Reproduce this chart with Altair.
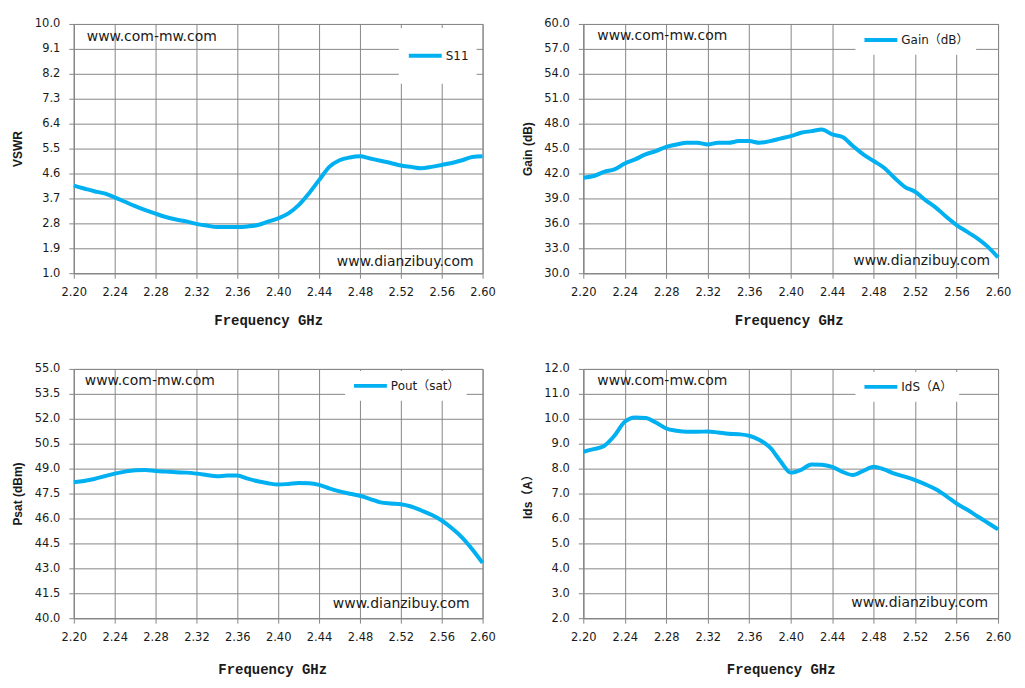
import altair as alt
import pandas as pd

freq = [2.20, 2.21, 2.22, 2.23, 2.24, 2.25, 2.26, 2.27, 2.28, 2.29,
        2.30, 2.31, 2.32, 2.33, 2.34, 2.35, 2.36, 2.37, 2.38, 2.39,
        2.40, 2.41, 2.42, 2.43, 2.44, 2.45, 2.46, 2.47, 2.48, 2.49,
        2.50, 2.51, 2.52, 2.53, 2.54, 2.55, 2.56, 2.57, 2.58, 2.59, 2.60]

vswr = [4.16, 4.06, 3.96, 3.88, 3.74, 3.58, 3.42, 3.28, 3.15, 3.03,
        2.94, 2.87, 2.78, 2.72, 2.67, 2.67, 2.67, 2.69, 2.74, 2.86,
        2.98, 3.16, 3.46, 3.88, 4.36, 4.84, 5.08, 5.18, 5.22, 5.14,
        5.06, 4.98, 4.89, 4.84, 4.79, 4.84, 4.91, 4.98, 5.08, 5.20, 5.22]

gain = [41.5, 41.7, 42.2, 42.5, 43.2, 43.7, 44.3, 44.7, 45.2, 45.5,
        45.7, 45.7, 45.5, 45.7, 45.7, 45.9, 45.9, 45.7, 45.9, 46.2,
        46.5, 46.9, 47.1, 47.3, 46.7, 46.4, 45.3, 44.3, 43.5, 42.7,
        41.5, 40.4, 39.8, 38.8, 37.9, 36.8, 35.8, 35.0, 34.2, 33.2, 31.9]

psat = [48.18, 48.26, 48.38, 48.54, 48.70, 48.82, 48.90, 48.92, 48.86, 48.82,
        48.78, 48.76, 48.70, 48.62, 48.54, 48.58, 48.58, 48.40, 48.24, 48.12,
        48.04, 48.08, 48.14, 48.12, 48.02, 47.81, 47.63, 47.49, 47.37, 47.17,
        46.97, 46.90, 46.86, 46.72, 46.48, 46.22, 45.88, 45.41, 44.85, 44.14, 43.33]

ids = [8.68, 8.78, 8.91, 9.32, 9.88, 10.05, 10.03, 9.85, 9.61, 9.52,
       9.48, 9.48, 9.49, 9.45, 9.40, 9.38, 9.32, 9.15, 8.85, 8.31,
       7.84, 7.95, 8.17, 8.16, 8.07, 7.87, 7.74, 7.91, 8.08, 7.97,
       7.80, 7.68, 7.54, 7.37, 7.17, 6.90, 6.60, 6.36, 6.09, 5.83, 5.56]

x_ticks = [2.20, 2.24, 2.28, 2.32, 2.36, 2.40, 2.44, 2.48, 2.52, 2.56, 2.60]
vswr_ticks = [1.0, 1.9, 2.8, 3.7, 4.6, 5.5, 6.4, 7.3, 8.2, 9.1, 10.0]
gain_ticks = [30.0, 33.0, 36.0, 39.0, 42.0, 45.0, 48.0, 51.0, 54.0, 57.0, 60.0]
psat_ticks = [40.0, 41.5, 43.0, 44.5, 46.0, 47.5, 49.0, 50.5, 52.0, 53.5, 55.0]
ids_ticks = [2.0, 3.0, 4.0, 5.0, 6.0, 7.0, 8.0, 9.0, 10.0, 11.0, 12.0]

series_names = ["S11", "Gain（dB）", "Pout（sat）", "IdS（A）"]
y_titles = ["VSWR", "Gain (dB)", "Psat (dBm)", "Ids（A）"]
x_title = "Frequency  GHz"
watermark_top = "www.com-mw.com"
watermark_bottom = "www.dianzibuy.com"

LINE = "#00B0F0"
GRID = "#878787"
TXT = "#1a1a1a"
LABEL_FONT = "DejaVu Sans, Noto Sans CJK SC"


def panel(values, ticks, name, ytitle, width, xtitle_x, xtitle_y,
          leg_x, leg_y, clip_h, leg_pad, wm_top, wm_bot):
    df = pd.DataFrame({"f": freq, "v": values, "s": [name] * len(freq)})
    line = alt.Chart(df).mark_line(strokeWidth=4, interpolate="monotone").encode(
        x=alt.X("f:Q",
                scale=alt.Scale(domain=[2.2, 2.6], nice=False, zero=False),
                axis=alt.Axis(values=x_ticks, format=".2f", title=x_title,
                              titleX=xtitle_x, titleY=xtitle_y,
                              titleBaseline="middle", labelFlush=False,
                              labelOverlap=False)),
        y=alt.Y("v:Q",
                scale=alt.Scale(domain=[ticks[0], ticks[-1]], nice=False, zero=False),
                axis=alt.Axis(values=ticks, format=".1f", title=ytitle,
                              titleX=-56, titleY=125, titleBaseline="middle",
                              labelOverlap=False)),
        color=alt.Color("s:N", scale=alt.Scale(range=[LINE]),
                        legend=alt.Legend(title=None, orient="none",
                                          legendX=leg_x, legendY=leg_y,
                                          symbolType="stroke", symbolSize=1089,
                                          symbolStrokeWidth=4, labelOffset=2,
                                          labelFontSize=12, labelFont=LABEL_FONT,
                                          labelColor=TXT, fillColor="white",
                                          padding=leg_pad, clipHeight=clip_h)),
    )
    t1 = alt.Chart(pd.DataFrame({"t": [watermark_top]})).mark_text(
        align="left", baseline="middle", fontSize=14, font=LABEL_FONT, color=TXT
    ).encode(text="t:N", x=alt.value(wm_top[0]), y=alt.value(wm_top[1]))
    t2 = alt.Chart(pd.DataFrame({"t": [watermark_bottom]})).mark_text(
        align="right", baseline="middle", fontSize=14, font=LABEL_FONT, color=TXT
    ).encode(text="t:N", x=alt.value(wm_bot[0]), y=alt.value(wm_bot[1]))
    return alt.layer(line, t1, t2).properties(width=width, height=250).resolve_scale(color="independent")


p1 = panel(vswr, vswr_ticks, series_names[0], y_titles[0], 410, 195, 47,
           326, 4, 40, 8, (13, 13), (401, 239))
p2 = panel(gain, gain_ticks, series_names[1], y_titles[1], 416, 206, 47,
           273, 1, 16, 7, (14, 12), (408, 238))
p3 = panel(psat, psat_ticks, series_names[2], y_titles[2], 410, 199, 51,
           272, 2, 16, 7, (11, 12), (397, 236))
p4 = panel(ids, ids_ticks, series_names[3], y_titles[3], 416, 198, 51,
           273, 3, 16, 7, (14, 12), (406, 235))

chart = alt.concat(p1, p2, p3, p4, columns=2, spacing={"row": 96, "column": 101},
                   bounds="flush", align="each").resolve_scale(color="independent").properties(
    padding={"left": 3, "top": 8, "right": 5, "bottom": 5},
    background="white",
).configure_view(stroke=GRID, strokeWidth=1).configure_axis(
    gridColor=GRID, gridWidth=1, gridOpacity=1, domainColor=GRID, tickColor=GRID, tickSize=5,
    labelFont=LABEL_FONT, labelFontSize=11.5, labelColor=TXT, labelPadding=8,
    titleFont="Liberation Sans, Noto Sans CJK SC", titleFontSize=12, titleFontWeight="bold",
    titleColor=TXT
).configure_axisY(labelPadding=9).configure_axisX(
    titleFont="Liberation Mono, Noto Sans CJK SC", titleFontSize=14
)

chart.save("out.html", embed_options={"renderer": "svg", "actions": False})
